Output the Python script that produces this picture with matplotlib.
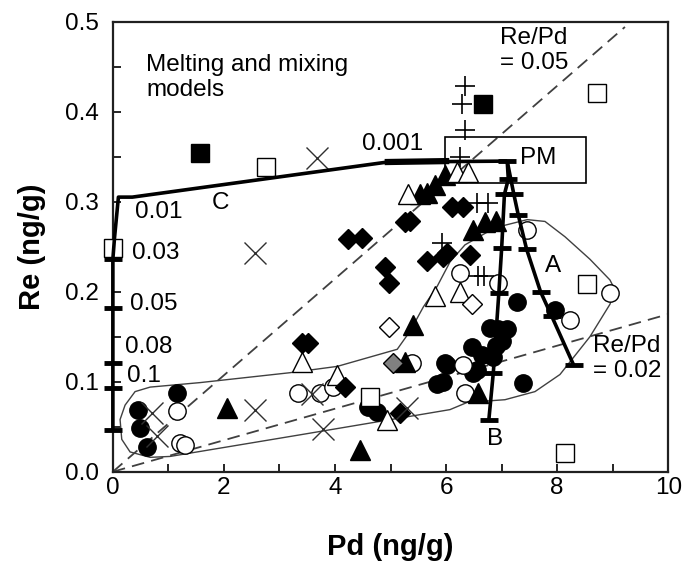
import numpy as np
import matplotlib.pyplot as plt
from matplotlib.patches import Rectangle, Polygon

plt.rcParams['font.family'] = ['Liberation Sans', 'DejaVu Sans']

# ── sample data (Pd, Re in ng/g) ─────────────────────────────────────────────
filled_circle_pd = [0.45, 0.49, 0.61, 1.15, 4.6, 4.75, 5.98, 5.84, 6.47, 6.49, 7.28, 6.94,
                    6.79, 7.1, 6.85, 6.56, 6.02, 5.95, 7.39, 7.96, 6.65, 6.9, 7.0]
filled_circle_re = [0.069, 0.049, 0.027, 0.088, 0.072, 0.066, 0.121, 0.097, 0.139, 0.11, 0.189, 0.158,
                    0.16, 0.158, 0.127, 0.113, 0.119, 0.1, 0.099, 0.18, 0.13, 0.14, 0.145]

open_circle_pd = [1.15, 1.2, 1.3, 3.33, 3.73, 3.96, 5.39, 6.31, 6.34, 6.25, 6.94, 7.46, 8.23, 8.95]
open_circle_re = [0.067, 0.032, 0.03, 0.087, 0.088, 0.094, 0.121, 0.119, 0.088, 0.221, 0.21, 0.269, 0.169, 0.199]

filled_tri_pd = [2.05, 4.45, 5.4, 5.26, 6.58, 6.49, 6.7, 6.9, 5.53, 5.8, 5.98, 5.65]
filled_tri_re = [0.071, 0.024, 0.163, 0.122, 0.088, 0.269, 0.277, 0.278, 0.308, 0.319, 0.33, 0.31]

open_tri_pd = [4.03, 4.94, 3.41, 5.8, 5.32, 6.2, 6.4, 6.25]
open_tri_re = [0.108, 0.058, 0.122, 0.195, 0.308, 0.333, 0.333, 0.2]

filled_dia_pd = [4.24, 4.49, 4.9, 4.97, 5.26, 5.35, 5.66, 5.95, 3.41, 3.51, 4.18, 5.17, 6.1, 6.3, 6.02, 6.43]
filled_dia_re = [0.258, 0.26, 0.227, 0.21, 0.277, 0.278, 0.234, 0.239, 0.143, 0.143, 0.094, 0.065, 0.294, 0.294, 0.243, 0.241]

gray_dia_pd = [5.05]
gray_dia_re = [0.121]

open_dia_pd = [4.97, 6.47]
open_dia_re = [0.161, 0.186]

filled_sq_pd = [1.57, 6.67]
filled_sq_re = [0.354, 0.408]

open_sq_pd = [2.76, 8.72, 8.54, 8.14, 4.63, 0.0]
open_sq_re = [0.339, 0.421, 0.208, 0.021, 0.083, 0.249]

cross_pd = [3.68, 2.56, 2.56, 0.7, 0.8, 3.78, 5.3, 3.59]
cross_re = [0.349, 0.243, 0.069, 0.065, 0.04, 0.047, 0.071, 0.086]

plus_pd = [6.34, 6.29, 6.34, 6.25, 6.56, 6.76, 5.93, 6.58, 6.68]
plus_re = [0.428, 0.408, 0.38, 0.35, 0.299, 0.299, 0.254, 0.217, 0.217]

# ── model curves ─────────────────────────────────────────────────────────────
pm_pd, pm_re = 7.1, 0.345

curve_c_pd = [0.0, 0.0, 0.0, 0.0, 0.0, 0.03, 0.1, 0.35, 4.95, pm_pd]
curve_c_re = [0.044, 0.093, 0.121, 0.182, 0.236, 0.26, 0.305, 0.305, 0.344, pm_re]
tick_c_pd = [0.0, 0.0, 0.0, 0.0, 0.0]
tick_c_re = [0.236, 0.182, 0.121, 0.093, 0.046]
tick_c_labels = ["0.01", "0.03", "0.05", "0.08", "0.1"]
tick_c_lab_pd = [0.4, 0.34, 0.31, 0.22, 0.25]
tick_c_lab_re = [0.289, 0.243, 0.186, 0.139, 0.106]

curve_a_pd = [pm_pd, 7.22, 7.3, 7.45, 7.7, 7.9, 8.3]
curve_a_re = [pm_re, 0.308, 0.285, 0.247, 0.2, 0.173, 0.118]

curve_b_pd = [pm_pd, 7.12, 7.05, 7.0, 6.95, 6.85, 6.77]
curve_b_re = [pm_re, 0.325, 0.308, 0.248, 0.199, 0.11, 0.058]

# outline around the samples
env_pd = [0.22, 0.40, 0.67, 1.57, 3.19, 4.04, 5.12, 5.35, 5.59, 5.84, 6.07, 6.34, 6.88, 7.46,
          7.78, 8.14, 8.59, 8.95, 9.04, 8.95, 8.59, 8.05, 7.60, 7.06, 6.38, 6.07, 3.37, 1.03,
          0.67, 0.31, 0.16, 0.13]
env_re = [0.074, 0.089, 0.094, 0.099, 0.110, 0.117, 0.136, 0.156, 0.183, 0.206, 0.233, 0.252,
          0.271, 0.280, 0.278, 0.261, 0.236, 0.213, 0.202, 0.186, 0.150, 0.108, 0.089, 0.080,
          0.077, 0.069, 0.041, 0.017, 0.016, 0.022, 0.036, 0.058]

ratio_hi_end = (9.22, 0.494)
ratio_lo_end = (10.0, 0.175)

# ── layout ───────────────────────────────────────────────────────────────────
fig = plt.figure(figsize=(6.84, 5.67), dpi=100)
ax = fig.add_axes([0.165, 0.168, 0.812, 0.794])

ax.set_xlim(0, 10)
ax.set_ylim(0, 0.5)

ax.add_patch(Polygon(np.column_stack([env_pd, env_re]), closed=True, fill=False,
                     edgecolor="#404040", linewidth=1.0, zorder=2))

ax.plot([0, ratio_hi_end[0]], [0, ratio_hi_end[1]], color="#404040", lw=1.3,
        dashes=(7, 4), zorder=2)
ax.plot([0, ratio_lo_end[0]], [0, ratio_lo_end[1]], color="#404040", lw=1.3,
        dashes=(7, 4), zorder=2)

ax.add_patch(Rectangle((5.98, 0.321), 2.54, 0.051, fill=False, edgecolor="black",
                       linewidth=1.2, zorder=3))

# samples
mk = dict(linestyle="none", zorder=4)
ax.plot(filled_circle_pd, filled_circle_re, "o", ms=12.5, mfc="black", mec="black", **mk)
ax.plot(open_circle_pd, open_circle_re, "o", ms=12.5, mfc="white", mec="black", mew=1, **mk)
ax.plot(filled_tri_pd, filled_tri_re, "^", ms=14, mfc="black", mec="black", **mk)
ax.plot(open_tri_pd, open_tri_re, "^", ms=14, mfc="white", mec="black", mew=1, **mk)
ax.plot(filled_dia_pd, filled_dia_re, "D", ms=10, mfc="black", mec="black", **mk)
ax.plot(gray_dia_pd, gray_dia_re, "D", ms=10, mfc="#808080", mec="black", **mk)
ax.plot(open_dia_pd, open_dia_re, "D", ms=10, mfc="white", mec="black", mew=1, **mk)
ax.plot(filled_sq_pd, filled_sq_re, "s", ms=13, mfc="black", mec="black", **mk)
ax.plot(open_sq_pd, open_sq_re, "s", ms=13, mfc="white", mec="black", mew=1, clip_on=False, **mk)
ax.plot(cross_pd, cross_re, "x", ms=16, color="#303030", mew=1, **mk)
ax.plot(plus_pd, plus_re, "+", ms=15, color="black", mew=1.2, **mk)

# model curves
line_kw = dict(color="black", lw=2.6, zorder=5, solid_capstyle="butt", clip_on=False)
ax.plot(curve_c_pd, curve_c_re, **line_kw)
ax.plot([4.95, 6.0], [0.344, 0.345], color="black", lw=4.5, zorder=5)
ax.plot(curve_a_pd, curve_a_re, **line_kw)
ax.plot(curve_b_pd, curve_b_re, **line_kw)

bar_kw = dict(linestyle="none", marker="_", ms=13, mew=3.5, color="black", zorder=6,
              clip_on=False)
ax.plot(tick_c_pd, tick_c_re, **bar_kw)
ax.plot(curve_a_pd[1:], curve_a_re[1:], **bar_kw)
ax.plot(curve_b_pd, curve_b_re, **bar_kw)

# annotations
fs = 17.5
for t, x, y in zip(tick_c_labels, tick_c_lab_pd, tick_c_lab_re):
    ax.text(x, y, t, fontsize=fs, va="center", ha="left", zorder=7)
ax.text(4.49, 0.364, "0.001", fontsize=fs, va="center", ha="left")
ax.text(1.93, 0.299, "C", fontsize=fs, va="center", ha="center")
ax.text(7.93, 0.228, "A", fontsize=fs, va="center", ha="center")
ax.text(6.88, 0.036, "B", fontsize=fs, va="center", ha="center")
ax.text(7.66, 0.348, "PM", fontsize=fs, va="center", ha="center")
ax.text(0.6, 0.464, "Melting and mixing\nmodels", fontsize=fs, va="top", ha="left",
        linespacing=1.2)
ax.text(6.97, 0.494, "Re/Pd\n= 0.05", fontsize=fs, va="top", ha="left", linespacing=1.2)
ax.text(8.65, 0.152, "Re/Pd\n= 0.02", fontsize=fs, va="top", ha="left", linespacing=1.2)

# axes styling
ax.set_xticks(np.arange(0, 11, 2))
ax.set_xticks(np.arange(0, 11, 1), minor=True)
ax.set_yticks(np.arange(0, 0.51, 0.1))
ax.set_yticks(np.arange(0, 0.51, 0.05), minor=True)
ax.xaxis.set_major_formatter(plt.FuncFormatter(lambda v, _: f"{v:.0f}"))
ax.yaxis.set_major_formatter(plt.FuncFormatter(lambda v, _: f"{v:.1f}"))
ax.tick_params(which="both", direction="in", length=6, width=1.2, labelsize=fs)
ax.tick_params(axis="x", pad=4)
ax.tick_params(axis="y", pad=10)
for s in ax.spines.values():
    s.set_linewidth(1.6)
    s.set_color("#202020")

ax.set_xlabel("Pd (ng/g)", fontsize=21, fontweight="bold", labelpad=24)
ax.set_ylabel("Re (ng/g)", fontsize=21, fontweight="bold", labelpad=14)

fig.savefig("out.png", dpi=100)
